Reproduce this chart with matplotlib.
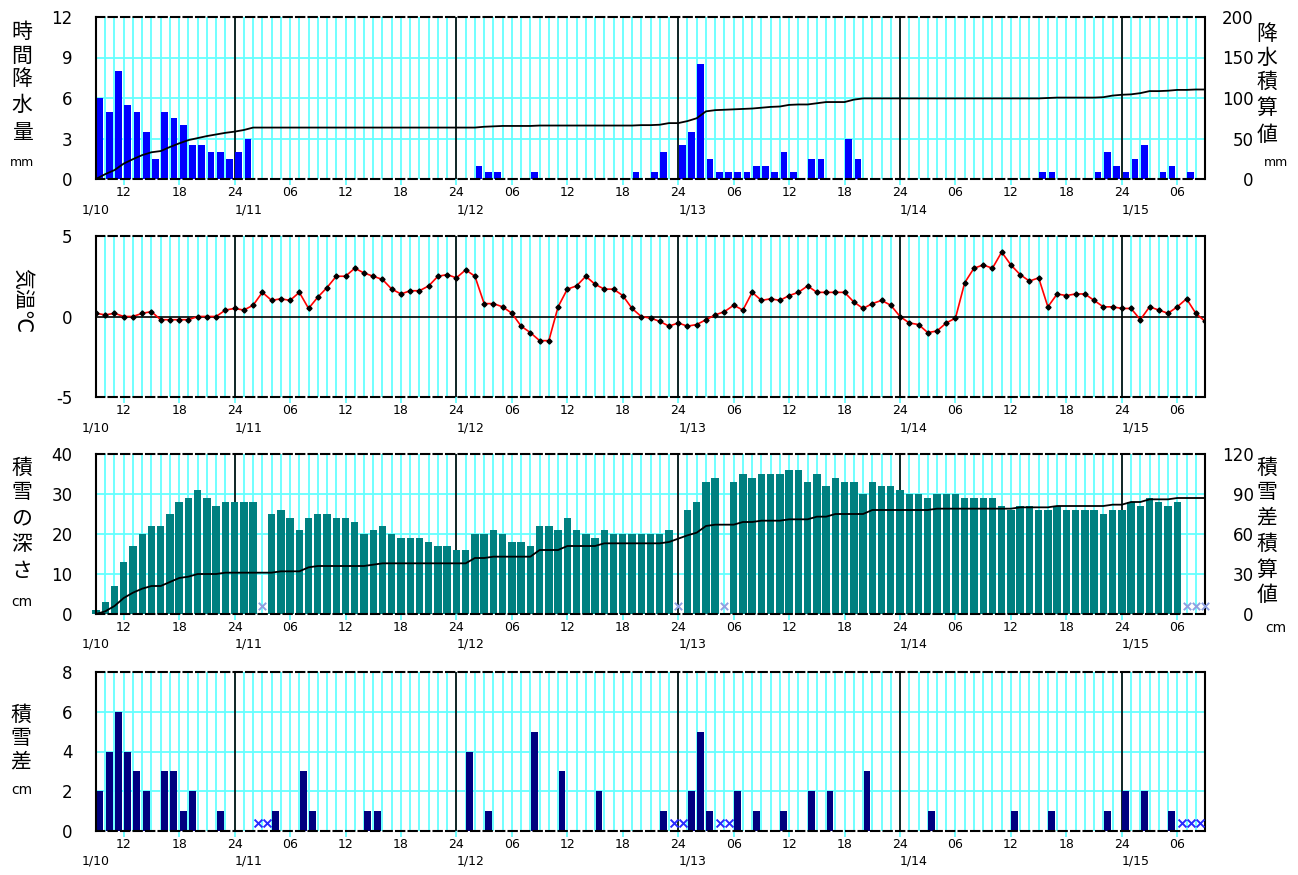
import numpy as np
import matplotlib.pyplot as plt

plt.rcParams['font.family'] = ['DejaVu Sans', 'Noto Sans CJK JP']

W, H = 1298, 875
nan = np.nan

# x axis: hour index, 0 = 1/10 09:00 ... 120 = 1/15 09:00
hours = np.arange(121)
slots = np.arange(120)
day_lines = [15, 39, 63, 87, 111]
date_labels = ['1/10', '1/11', '1/12', '1/13', '1/14', '1/15']
hour_labels = ['12', '18', '24', '06'] * 5

# hourly precipitation (mm), one value per hour slot
precip = ([6.0, 5.0, 8.0, 5.5, 5.0, 3.5, 1.5, 5.0, 4.5, 4.0, 2.5, 2.5, 2.0, 2.0, 1.5]
          + [2.0, 3.0] + [0.0] * 22
          + [0, 0, 1.0, 0.5, 0.5, 0, 0, 0, 0.5] + [0.0] * 10 + [0.5, 0, 0.5, 2.0, 0]
          + [2.5, 3.5, 8.5, 1.5, 0.5, 0.5, 0.5, 0.5, 1.0, 1.0, 0.5, 2.0, 0.5, 0,
             1.5, 1.5, 0, 0, 3.0, 1.5, 0, 0, 0, 0]
          + [0.0] * 15 + [0.5, 0.5, 0, 0, 0, 0, 0.5, 2.0, 1.0]
          + [0.5, 1.5, 2.5, 0, 0.5, 1.0, 0, 0.5, 0])

# accumulated precipitation (mm)
precip_cum = ([0, 6, 11, 19, 24.5, 29.5, 33, 34.5, 39.5, 44, 48, 50.5, 53, 55, 57, 58.5,
               60.5] + [63.5] * 25
              + [64.5, 65, 65.5, 65.5, 65.5, 65.5] + [66] * 11 + [66.5, 66.5, 67, 69, 69]
              + [71.5, 75, 83.5, 85, 85.5, 86, 86.5, 87, 88, 89, 89.5, 91.5, 92, 92,
                 93.5, 95, 95, 95, 98] + [99.5] * 20
              + [100, 100.5, 100.5, 100.5, 100.5, 100.5, 101, 103, 104, 104.5, 106,
                 108.5, 108.5, 109, 110, 110, 110.5, 110.5])

# temperature (deg C)
temp = [0.2, 0.1, 0.2, 0.0, 0.0, 0.2, 0.3, -0.2, -0.2, -0.2, -0.2, 0.0, 0.0, 0.0, 0.4,
        0.5, 0.4, 0.7, 1.5, 1.0, 1.1, 1.0, 1.5, 0.5, 1.2, 1.8, 2.5, 2.5, 3.0, 2.7, 2.5,
        2.3, 1.7, 1.4, 1.6, 1.6, 1.9, 2.5, 2.6,
        2.4, 2.9, 2.5, 0.8, 0.8, 0.6, 0.2, -0.6, -1.0, -1.5, -1.5, 0.6, 1.7, 1.9, 2.5,
        2.0, 1.7, 1.7, 1.3, 0.5, 0.0, -0.1, -0.3, -0.6,
        -0.4, -0.6, -0.5, -0.2, 0.1, 0.3, 0.7, 0.4, 1.5, 1.0, 1.1, 1.0, 1.3, 1.5, 1.9,
        1.5, 1.5, 1.5, 1.5, 0.9, 0.5, 0.8, 1.0, 0.7,
        0.0, -0.4, -0.5, -1.0, -0.9, -0.4, -0.1, 2.1, 3.0, 3.2, 3.0, 4.0, 3.2, 2.6, 2.2,
        2.4, 0.6, 1.4, 1.3, 1.4, 1.4, 1.0, 0.6, 0.6,
        0.5, 0.5, -0.2, 0.6, 0.4, 0.2, 0.6, 1.1, 0.2, -0.3]

# snow depth (cm), nan = missing
snow_depth = ([1, 3, 7, 13, 17, 20, 22, 22, 25, 28, 29, 31, 29, 27, 28]
              + [28, 28, 28, nan, 25, 26, 24, 21, 24, 25, 25, 24, 24, 23, 20, 21, 22, 20,
                 19, 19, 19, 18, 17, 17]
              + [16, 16, 20, 20, 21, 20, 18, 18, 17, 22, 22, 21, 24, 21, 20, 19, 21, 20,
                 20, 20, 20, 20, 20, 21]
              + [nan, 26, 28, 33, 34, nan, 33, 35, 34, 35, 35, 35, 36, 36, 33, 35, 32, 34,
                 33, 33, 30, 33, 32, 32]
              + [31, 30, 30, 29, 30, 30, 30, 29, 29, 29, 29, 27, 26, 27, 27, 26, 26, 27,
                 26, 26, 26, 26, 25, 26]
              + [26, 28, 27, 29, 28, 27, 28, nan, nan, nan])

# accumulated snow difference (cm)
snow_cum = ([0, 2, 6, 12, 16, 19, 21, 21, 24, 27, 28, 30, 30, 30, 31]
            + [31] * 5 + [32, 32, 32, 35] + [36] * 6 + [37] + [38] * 8
            + [38, 38, 42, 42, 43, 43, 43, 43, 43, 48, 48, 48, 51, 51, 51, 51, 53]
            + [53] * 6 + [54]
            + [56.5, 59, 61, 66, 67, 67, 67, 69, 69, 70, 70, 70, 71, 71, 71, 73, 73, 75,
               75, 75, 75, 78, 78, 78]
            + [78] * 4 + [79] * 9 + [80] * 4 + [81] * 6 + [82]
            + [82, 84, 84, 86, 86, 86, 87, 87, 87, 87])

# hourly snow difference (cm), one value per hour slot, nan = missing
snow_diff = ([2, 4, 6, 4, 3, 2, 0, 3, 3, 1, 2, 0, 0, 1, 0]
             + [0, 0, nan, nan, 1, 0, 0, 3, 1, 0, 0, 0, 0, 0, 1, 1, 0, 0, 0, 0, 0, 0, 0, 0]
             + [0, 4, 0, 1, 0, 0, 0, 0, 5, 0, 0, 3, 0, 0, 0, 2, 0, 0, 0, 0, 0, 0, 1, nan]
             + [nan, 2, 5, 1, nan, nan, 2, 0, 1, 0, 0, 1, 0, 0, 2, 0, 2, 0, 0, 0, 3, 0, 0, 0]
             + [0, 0, 0, 1, 0, 0, 0, 0, 0, 0, 0, 0, 1, 0, 0, 0, 1, 0, 0, 0, 0, 0, 1, 0]
             + [2, 0, 2, 0, 0, 1, nan, nan, nan])

precip = np.array(precip, dtype=float)
snow_depth = np.array(snow_depth, dtype=float)
snow_diff = np.array(snow_diff, dtype=float)

CYAN = '#66ffff'

fig = plt.figure(figsize=(W / 100, H / 100), dpi=100)


def panel(top, bottom, ylim, yticks, ylabels, hgrid=True):
    ax = fig.add_axes([96 / W, 1 - bottom / H, (1205 - 96) / W, (bottom - top) / H])
    ax.set_xlim(0, 120)
    ax.set_ylim(*ylim)
    xt = ax.get_xaxis_transform()
    ax.vlines(hours[1:-1], 0, 1, transform=xt, color=CYAN, lw=1.3, zorder=0)
    if hgrid:
        ax.hlines(yticks[1:-1], 0, 120, color=CYAN, lw=1.3, zorder=0)
    ax.vlines(day_lines, 0, 1, transform=xt, color='black', lw=1.2, zorder=1)
    for s in ['left', 'right']:
        ax.spines[s].set_linewidth(1.5)
    for s in ['top', 'bottom']:
        ax.spines[s].set_linewidth(1.5)
        ax.spines[s].set_linestyle((0, (4, 2)))
    ax.set_xticks(hours[3::6])
    ax.set_xticklabels(hour_labels, fontsize=9)
    ax.tick_params(axis='x', length=4, color=CYAN, width=1.3, pad=1)
    ax.set_yticks(yticks)
    ax.set_yticklabels(ylabels, fontsize=12)
    ax.tick_params(axis='y', length=0, pad=17)
    ax.text(0, -0.19, date_labels[0], transform=xt, ha='center', va='center', fontsize=9)
    for d, lab in zip(day_lines, date_labels[1:]):
        ax.text(d, -0.19, lab, transform=xt, ha='left', va='center', fontsize=9)
    return ax


def right_axis(ax, ylim, yticks):
    axr = ax.twinx()
    axr.set_ylim(*ylim)
    axr.set_yticks(yticks)
    axr.set_yticklabels([str(v) for v in yticks], fontsize=12)
    axr.tick_params(axis='y', length=0, pad=35)
    for t in axr.get_yticklabels():
        t.set_horizontalalignment('right')
    for s in axr.spines.values():
        s.set_visible(False)
    return axr


def vtext(chars, x, ys, size=15):
    for c, y in zip(chars, ys):
        fig.text(x / W, 1 - y / H, c, ha='center', va='center', fontsize=size)


# panel 1: precipitation
ax1 = panel(17, 179, (0, 12), [0, 3, 6, 9, 12], ['0', '3', '6', '9', '12'])
ax1.bar(slots + 0.08, precip, width=0.72, align='edge', color='#0000ff', zorder=2)
ax1r = right_axis(ax1, (0, 200), [0, 50, 100, 150, 200])
ax1r.plot(hours, precip_cum, color='black', lw=1.3)
vtext('時間降水量', 22, [32, 56, 79, 105, 133])
fig.text(22 / W, 1 - 162 / H, 'mm', ha='center', va='center', fontsize=9)
vtext('降水積算値', 1267, [34, 58, 82, 108, 135])
fig.text(1276 / W, 1 - 163 / H, 'mm', ha='center', va='center', fontsize=9)

# panel 2: temperature
ax2 = panel(236, 397, (-5, 5), [-5, 0, 5], ['-5', '0', '5'], hgrid=False)
ax2.axhline(0, color='black', lw=1.2, zorder=1)
ax2.plot(hours, temp, color='red', lw=1.2, marker='D', ms=2.6, mfc='black',
         mec='black', zorder=3)
fig.text(22 / W, 1 - 301 / H, '気温℃', rotation=270, ha='center', va='center',
         fontsize=15)

# panel 3: snow depth
ax3 = panel(454, 614, (0, 40), [0, 10, 20, 30, 40], ['0', '10', '20', '30', '40'])
ax3.bar(hours, snow_depth, width=0.8, color='#008080', zorder=2, clip_on=False)
miss3 = hours[np.isnan(snow_depth)]
ax3.scatter(miss3, np.full(len(miss3), 1.9), marker='x', s=28, lw=1.4,
            color='#8fa0e0', zorder=3, clip_on=False)
ax3r = right_axis(ax3, (0, 120), [0, 30, 60, 90, 120])
ax3r.plot(hours, snow_cum, color='black', lw=1.3)
vtext('積雪の深さ', 22, [468, 492, 518, 544, 571])
fig.text(22 / W, 1 - 602 / H, 'cm', ha='center', va='center', fontsize=10)
vtext('積雪差積算値', 1267, [468, 492, 517, 544, 570, 595])
fig.text(1276 / W, 1 - 628 / H, 'cm', ha='center', va='center', fontsize=10)

# panel 4: snow difference
ax4 = panel(672, 831, (0, 8), [0, 2, 4, 6, 8], ['0', '2', '4', '6', '8'])
ax4.bar(slots + 0.05, snow_diff, width=0.75, align='edge', color='#000080', zorder=2)
miss4 = slots[np.isnan(snow_diff)]
ax4.scatter(miss4 + 0.5, np.full(len(miss4), 0.38), marker='x', s=32, lw=1.4,
            color='#2a2aff', zorder=3)
vtext('積雪差', 21, [715, 738, 761])
fig.text(22 / W, 1 - 790 / H, 'cm', ha='center', va='center', fontsize=10)

fig.savefig('out.png', dpi=100)
